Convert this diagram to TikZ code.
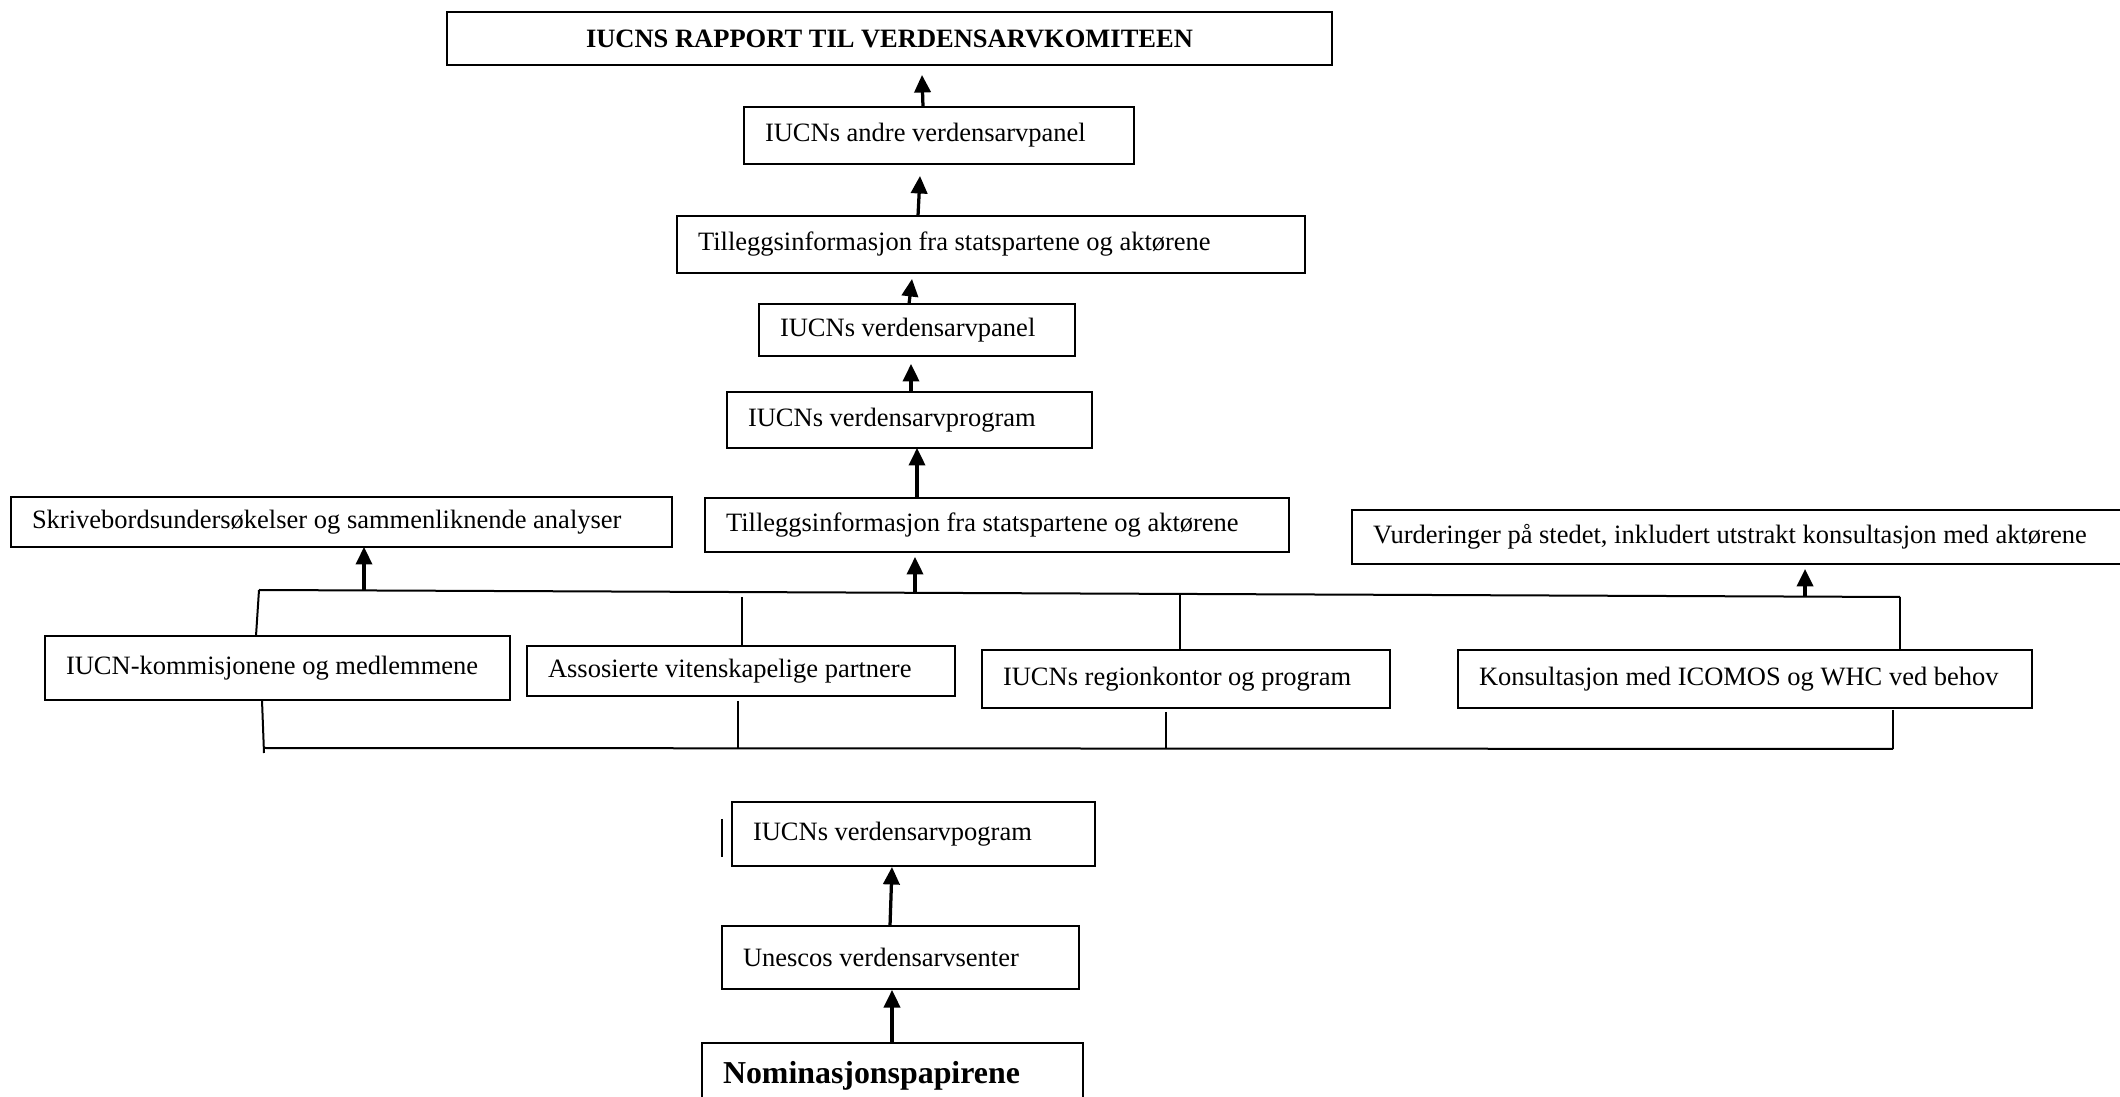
\documentclass[tikz,border=0pt]{standalone}
\usepackage{fontspec}
\setmainfont{Liberation Serif}
\usetikzlibrary{calc,arrows.meta}
% name, x1, y1, x2, y2, extra style, text
\newcommand\mkbox[7]{%
  \pgfmathsetmacro\bxw{(#4-#2)*0.4}%
  \pgfmathsetmacro\bxh{(#5-#3)*0.4}%
  \pgfmathsetmacro\bxt{\bxw-2*8.4}%
  \node[box, anchor=north west, minimum width=\bxw pt, minimum height=\bxh pt, #6]
    (#1) at (#2,#3) {\makebox[\bxt pt][l]{#7}};}
\begin{document}
\begin{tikzpicture}[x=0.4pt,y=-0.4pt,
  box/.style={draw, line width=0.9pt, inner xsep=8.4pt, inner ysep=0pt,
              outer sep=0pt, font=\fontsize{10.6}{12.7}\selectfont},
  arr/.style={line width=1.3pt, -{Triangle[width=6.5pt,length=7pt]}},
  bus/.style={line width=0.8pt}]
\useasboundingbox (0,0) rectangle (2120,1097);

% boxes
\pgfmathsetmacro\topw{(1332-447)*0.4}
\node[box, anchor=north west, minimum width=\topw pt, minimum height=21.2pt,
      font=\bfseries\fontsize{10.6}{12.7}\selectfont]
  (top) at (447,12) {IUCNS RAPPORT TIL VERDENSARVKOMITEEN};
\mkbox{andre}{744}{107}{1134}{164}{}{IUCNs andre verdensarvpanel}
\mkbox{tillA}{677}{216}{1305}{273}{}{Tilleggsinformasjon fra statspartene og aktørene}
\mkbox{panel}{759}{304}{1075}{356}{}{IUCNs verdensarvpanel}
\mkbox{prog}{727}{392}{1092}{448}{}{IUCNs verdensarvprogram}
\mkbox{skr}{11}{497}{672}{547}{}{Skrivebordsundersøkelser og sammenliknende analyser}
\mkbox{tillB}{705}{498}{1289}{552}{}{Tilleggsinformasjon fra statspartene og aktørene}
\mkbox{vurd}{1352}{510}{2135}{564}{}{Vurderinger på stedet, inkludert utstrakt konsultasjon med aktørene}
\mkbox{komm}{45}{636}{510}{700}{}{IUCN-kommisjonene og medlemmene}
\mkbox{asso}{527}{646}{955}{696}{}{Assosierte vitenskapelige partnere}
\mkbox{reg}{982}{650}{1390}{708}{}{IUCNs regionkontor og program}
\mkbox{kons}{1458}{650}{2032}{708}{}{Konsultasjon med ICOMOS og WHC ved behov}
\mkbox{pog}{732}{802}{1095}{866}{}{IUCNs verdensarvpogram}
\mkbox{une}{722}{926}{1079}{989}{}{Unescos verdensarvsenter}
\mkbox{nom}{702}{1043}{1083}{1109}{font=\bfseries\fontsize{12.75}{15}\selectfont}{Nominasjonspapirene}

% upper chain of arrows
\draw[arr] ($(andre.north)+(-16,0)$) -- ($(top.south)+(32.5,10)$);
\draw[arr] ($(tillA.north)+(-73,0)$) -- ($(andre.south)+(-19,12)$);
\draw[arr] ($(panel.north)+(-8,0)$) -- ($(tillA.south)+(-79,6)$);
\draw[arr] ($(prog.north)+(1.5,0)$) -- ($(panel.south)+(-6,8)$);
\draw[arr] ($(tillB.north)+(-80,0)$) -- ($(prog.south)+(7.5,0)$);

% upper bus
\coordinate (L1) at (259,590);
\coordinate (L2) at (1900,597);
\coordinate (u1) at (364,591);
\coordinate (u2) at (915,593);
\coordinate (u3) at (1805,596);
\coordinate (u4) at (742,594);
\coordinate (u5) at (1180,595);
\draw[bus] (L1) -- (L2);
\draw[arr] (u1) -- (u1 |- skr.south);
\draw[arr] (u2) -- ($(u2 |- tillB.south)+(0,5)$);
\draw[arr] (u3) -- ($(u3 |- vurd.south)+(0,5)$);
\draw[bus] ($(komm.north)+(-21.5,0)$) -- (L1);
\draw[bus] ($(u4)+(0,3)$) -- (u4 |- asso.north);
\draw[bus] (u5) -- (u5 |- reg.north);
\draw[bus] (L2) -- (L2 |- kons.north);

% lower bus
\coordinate (M1) at (264,748);
\coordinate (M2) at (1893,749);
\coordinate (m2) at (738,748);
\coordinate (m3) at (1166,749);
\draw[bus] (M1) -- (M2);
\draw[bus] ($(komm.south)+(-15.5,0)$) -- ($(M1)+(0,5)$);
\draw[bus] ($(m2 |- asso.south)+(0,5)$) -- (m2);
\draw[bus] ($(m3 |- reg.south)+(0,4)$) -- (m3);
\draw[bus] ($(M2 |- kons.south)+(0,2)$) -- (M2);

% lower chain
\draw[bus] ($(pog.west)+(-10,-15)$) -- ($(pog.west)+(-10,23)$);
\draw[arr] ($(une.north)+(-10.5,0)$) -- ($(pog.south)+(-21.5,1)$);
\draw[arr] ($(nom.north)+(-0.5,0)$) -- ($(une.south)+(-8.5,1)$);
\end{tikzpicture}
\end{document}
